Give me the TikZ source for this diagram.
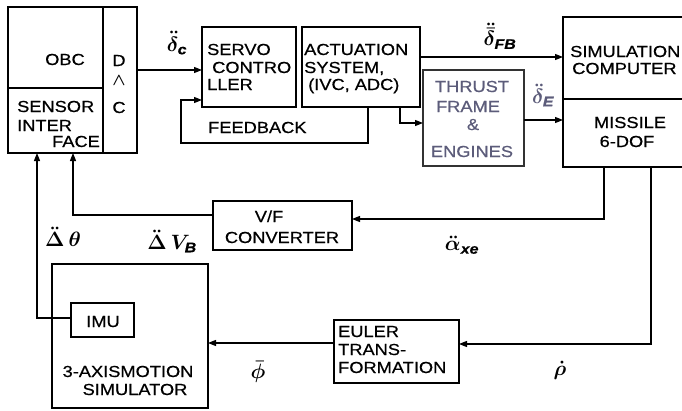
\documentclass[tikz,border=0pt]{standalone}
\usepackage{amsmath}
\usepackage{fontspec}
\setmainfont{Liberation Sans}[FakeStretch=1.14,FakeBold=0.6]
\usetikzlibrary{arrows.meta}
\newcommand{\sbi}[1]{\text{\bfseries\itshape #1}}
\begin{document}
\begin{tikzpicture}[x=1pt,y=-1pt,
  box/.style={draw, line width=1.6pt, inner sep=0pt, outer sep=0pt, anchor=north west},
  arr/.style={line width=1.3pt, -{Triangle[length=8pt,width=6pt]}},
  wire/.style={line width=1.3pt},
  txt/.style={inner sep=0pt, font=\fontsize{16}{17}\selectfont, anchor=base west},
  ctxt/.style={inner sep=0pt, font=\fontsize{16}{17}\selectfont, anchor=base},
  sym/.style={inner sep=0pt, font=\fontsize{20}{22}\selectfont\boldmath},
  faded/.style={text=thrustgray}]
\definecolor{thrustgray}{RGB}{92,92,122}
\useasboundingbox (0,0) rectangle (682,410);
\fill[white] (0,0) rectangle (682,410);

% boxes
\node[box, minimum width=129pt, minimum height=146pt] (obc) at (8,7) {};
\draw[line width=1.6pt] (103,7) -- (103,153);
\draw[line width=1.6pt] (8,88) -- (103,88);
\node[box, minimum width=94pt, minimum height=80pt] (servo) at (202,27) {};
\node[box, minimum width=118pt, minimum height=80pt] (act) at (302,27) {};
\node[box, draw=black!80, minimum width=101pt, minimum height=96pt] (thrust) at (423,70) {};
\node[box, minimum width=127pt, minimum height=150pt] (sim) at (563,17) {};
\draw[line width=1.6pt] (563,99) -- (690,99);
\node[box, minimum width=139pt, minimum height=49pt] (vf) at (213,201) {};
\node[box, minimum width=156pt, minimum height=144pt] (axis) at (52,264) {};
\node[box, minimum width=63pt, minimum height=34pt] (imu) at (71,303) {};
\node[box, minimum width=125pt, minimum height=63pt] (euler) at (334,320) {};

% texts
\node[txt] (tobc) at (45,65) {OBC};
\node[txt] (ts1) at (17,112) {SENSOR};
\node[txt] (ts2) at (17,131) {INTER};
\node[txt] (ts3) at (52,147) {FACE};
\node[ctxt] (td) at (119,66) {D};
\node[inner sep=0pt, font=\fontsize{16}{17}\selectfont] (tw) at (119,81) {$\boldsymbol{\wedge}$};
\node[ctxt] (tc) at (119,113) {C};
\node[txt] (sv1) at (207,55) {SERVO};
\node[txt] (sv2) at (212,73) {CONTRO};
\node[txt] (sv3) at (207,90) {LLER};
\node[txt] (ac1) at (304,55) {ACTUATION};
\node[txt] (ac2) at (304,73) {SYSTEM,};
\node[txt] (ac3) at (308,90) {(IVC, ADC)};
\node[txt] (tfb) at (208,133) {FEEDBACK};
\node[ctxt, faded] (th1) at (472,92) {THRUST};
\node[ctxt, faded] (th2) at (468,112) {FRAME};
\node[ctxt, faded] (th3) at (473,130) {\&};
\node[ctxt, faded] (th4) at (472,157) {ENGINES};
\node[txt] (sc1) at (570,57) {SIMULATION};
\node[txt] (sc2) at (572,74) {COMPUTER};
\node[ctxt] (ms1) at (630,128) {MISSILE};
\node[ctxt] (ms2) at (627,147) {6-DOF};
\node[ctxt] (vf1) at (269,222) {V/F};
\node[ctxt] (vf2) at (282,243) {CONVERTER};
\node[ctxt] (ti) at (103,327) {IMU};
\node[ctxt] (ax1) at (128,377) {3-AXISMOTION};
\node[ctxt] (ax2) at (135,395) {SIMULATOR};
\node[txt] (eu1) at (338,337) {EULER};
\node[txt] (eu2) at (338,355) {TRANS-};
\node[txt] (eu3) at (338,373) {FORMATION};

% symbols
\node[sym] (sdc) at (177,43) {$\ddot{\delta}_{\sbi{c}}$};
\node[sym] (sfb) at (500,36) {$\ddot{\bar{\delta}}_{\sbi{FB}}$};
\node[sym, text=thrustgray] (se) at (543,95) {$\ddot{\delta}_{\sbi{E}}$};
\node[sym] (sth) at (63,237) {$\ddot{\Delta}\,\theta$};
\node[sym] (svb) at (172,241) {$\ddot{\Delta}\,V_{\sbi{B}}$};
\node[sym] (sal) at (462,245) {$\ddot{\alpha}_{\sbi{xe}}$};
\node[sym] (sph) at (258,372) {$\bar{\phi}$};
\node[sym] (srh) at (560,370) {$\dot{\rho}$};

% connectors
\draw[arr] (obc.east |- 0,70) -- (servo.west |- 0,70);
\draw[arr] (act.south -| 368,0) -- (368,143) -- (181,143) -- (181,100) -- (servo.west |- 0,100);
\draw[arr] (act.south -| 400,0) -- (400,123) -- (thrust.west |- 0,123);
\draw[arr] (act.east |- 0,57) -- (sim.west |- 0,57);
\draw[arr] (thrust.east |- 0,120) -- (sim.west |- 0,120);
\draw[arr] (sim.south -| 604,0) -- (604,219) -- (vf.east |- 0,219);
\draw[arr] (sim.south -| 651,0) -- (651,344) -- (euler.east |- 0,344);
\draw[arr] (euler.west |- 0,343) -- (axis.east |- 0,343);
\draw[arr] (vf.west |- 0,215) -- (73,215) -- (obc.south -| 73,0);
\draw[arr] (imu.west |- 0,318) -- (37,318) -- (obc.south -| 37,0);
\end{tikzpicture}
\end{document}
